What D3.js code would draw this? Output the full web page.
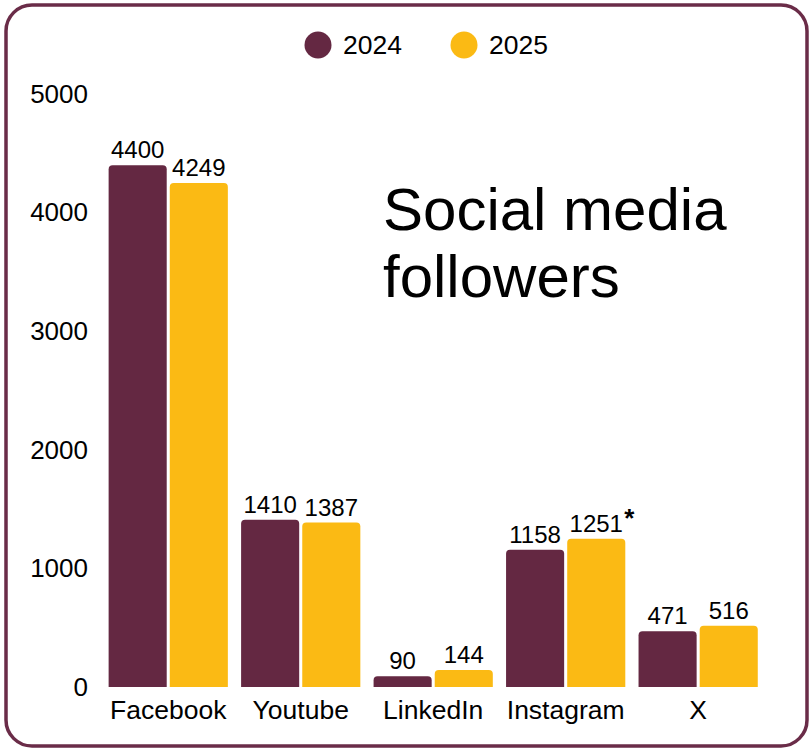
<!DOCTYPE html>
<html>
<head>
<meta charset="utf-8">
<script src="https://cdn.jsdelivr.net/npm/d3@7"></script>
<style>
  body { margin: 0; background: #fff; }
  svg text { font-family: "Liberation Sans", Arial, sans-serif; fill: #000; }
</style>
</head>
<body>
<div id="chart"></div>
<script>
// data
const platforms = ["Facebook", "Youtube", "LinkedIn", "Instagram", "X"];
const years = ["2024", "2025"];
const followers2024 = [4400, 1410, 90, 1158, 471];
const followers2025 = [4249, 1387, 144, 1251, 516];
const yTicks = [0, 1000, 2000, 3000, 4000, 5000];
const colors = ["#642842", "#fbba14"];

const width = 811, height = 749;
const margin = { top: 94, bottom: 62, left: 102, right: 47 };

const svg = d3.select("#chart")
  .append("svg")
  .attr("width", width)
  .attr("height", height);

// frame
svg.append("rect")
  .attr("x", 6).attr("y", 5)
  .attr("width", 801).attr("height", 741)
  .attr("rx", 26)
  .attr("fill", "none")
  .attr("stroke", "#6a2c48")
  .attr("stroke-width", 3.5);

const xScale = d3.scaleBand()
  .domain(platforms)
  .range([margin.left, width - margin.right + 0.4])
  .paddingInner(0.1)
  .paddingOuter(0.05);

const xInner = d3.scaleBand()
  .domain(years)
  .range([0, xScale.bandwidth()])
  .paddingInner(0.05);

const yScale = d3.scaleLinear()
  .domain([0, 5000])
  .range([height - margin.bottom, margin.top]);

// y axis, labels only
const yAxis = d3.axisLeft(yScale).tickValues(yTicks).tickSize(0).tickPadding(0).tickFormat(d => d);
svg.append("g")
  .attr("class", "y-axis")
  .attr("transform", `translate(88,0)`)
  .call(yAxis)
  .call(g => g.select(".domain").remove())
  .selectAll("text")
  .attr("font-size", 26)
  .attr("font-family", "Liberation Sans, Arial, sans-serif")
  .attr("fill", "#000");

// x axis labels
const xAxis = d3.axisBottom(xScale).tickSize(0).tickPadding(0);
svg.append("g")
  .attr("class", "x-axis")
  .attr("transform", `translate(0, ${height - margin.bottom})`)
  .call(xAxis)
  .call(g => g.select(".domain").remove())
  .selectAll("text")
  .attr("dy", null)
  .attr("y", 32)
  .attr("font-size", 26.5)
  .attr("font-family", "Liberation Sans, Arial, sans-serif")
  .attr("fill", "#000");

const rows = [];
platforms.forEach((p, i) => {
  rows.push({ platform: p, year: "2024", value: followers2024[i], ci: 0 });
  rows.push({ platform: p, year: "2025", value: followers2025[i], ci: 1 });
});

// bar with rounded top corners
function barPath(d) {
  const x0 = xScale(d.platform) + xInner(d.year);
  const w = xInner.bandwidth();
  const y0 = yScale(d.value), y1 = yScale(0);
  const r = Math.min(4, (y1 - y0));
  return `M${x0},${y1} V${y0 + r} Q${x0},${y0} ${x0 + r},${y0} H${x0 + w - r} Q${x0 + w},${y0} ${x0 + w},${y0 + r} V${y1} Z`;
}

svg.selectAll("path.bar")
  .data(rows)
  .join("path")
  .attr("class", "bar")
  .attr("d", barPath)
  .attr("fill", d => colors[d.ci]);

svg.selectAll("text.val")
  .data(rows)
  .join("text")
  .attr("class", "val")
  .attr("x", d => xScale(d.platform) + xInner(d.year) + xInner.bandwidth() / 2)
  .attr("y", d => yScale(d.value) - 7)
  .attr("text-anchor", "middle")
  .attr("font-size", 24)
  .text(d => d.value);

// asterisk on instagram 2025
svg.append("text")
  .attr("x", xScale("Instagram") + xInner("2025") + xInner.bandwidth() / 2 + 28)
  .attr("y", yScale(1251) - 12)
  .attr("font-size", 26)
  .attr("font-weight", "bold")
  .text("*");

// title
const title = svg.append("text")
  .attr("x", 383)
  .attr("y", 230)
  .attr("font-size", 60);
title.append("tspan").attr("x", 383).text("Social media");
title.append("tspan").attr("x", 383).attr("dy", 67).text("followers");

// legend
const legend = svg.append("g").attr("class", "legend");
const legendX = [318, 464];
years.forEach((y, i) => {
  legend.append("circle")
    .attr("cx", legendX[i]).attr("cy", 45).attr("r", 13.5)
    .attr("fill", colors[i]);
  legend.append("text")
    .attr("x", legendX[i] + 25).attr("y", 54)
    .attr("font-size", 26.5)
    .text(y);
});
</script>
</body>
</html>
